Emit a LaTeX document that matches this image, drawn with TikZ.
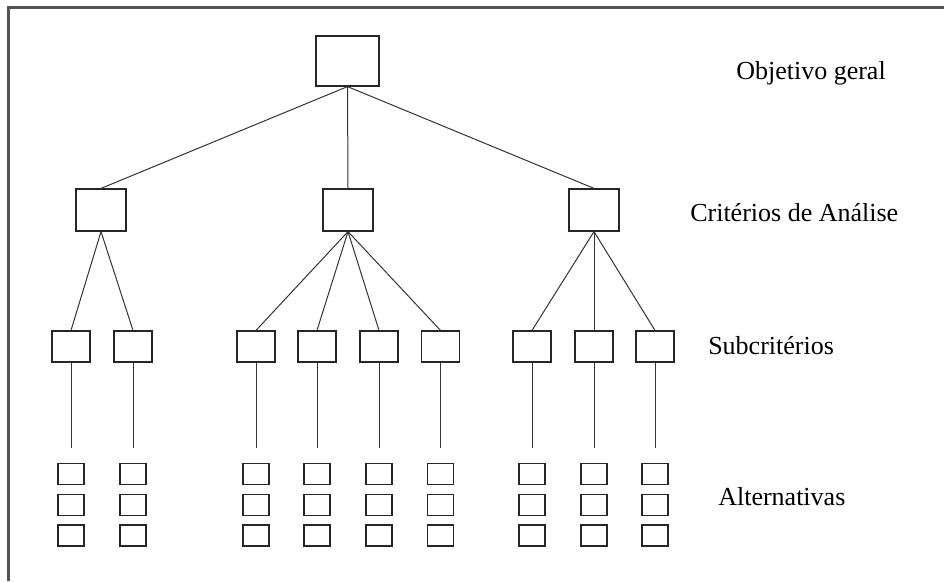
\documentclass[tikz,border=0pt]{standalone}
\usepackage{fontspec}
\setmainfont{Liberation Serif}
\begin{document}
\begin{tikzpicture}[x=0.75pt,y=-0.75pt,
  box/.style={draw=black!85,line width=0.9pt,inner sep=0pt,fill=white},
  topbox/.style={box,minimum width=47.25pt,minimum height=37.5pt},
  critbox/.style={box,minimum width=37.5pt,minimum height=31.5pt},
  subbox/.style={box,minimum width=28.5pt,minimum height=23.25pt},
  altbox/.style={box,minimum width=19.5pt,minimum height=15.75pt},
  link/.style={draw=black!80,line width=0.75pt},
  lvl/.style={anchor=west,font=\fontsize{19.5}{22}\selectfont,inner sep=0pt},
  frame/.style={draw=black!67,line width=1.6pt}]
\useasboundingbox (0,0) rectangle (944,581);
% frame (only top and left edges visible)
\coordinate (fa) at (8.5,581);
\coordinate (fb) at (8.5,7.5);
\coordinate (fc) at (944,7.5);
\draw[frame] (fa) -- (fb) -- (fc);
% top
\node[topbox] (top) at (347.5,61) {};
% criteria
\node[critbox] (c1) at (101,210) {};
\node[critbox] (c2) at (348,210) {};
\node[critbox] (c3) at (594,210) {};
\draw[link] (top.south) -- (c1.north);
\draw[link] (top.south) -- (c2.north);
\draw[link] (top.south) -- (c3.north);
% subcriteria
\foreach \i/\x/\p in {1/71/c1,2/133/c1,3/256/c2,4/317/c2,5/379/c2,6/440.5/c2,7/532/c3,8/594/c3,9/655/c3}{
  \node[subbox] (s\i) at (\x,346.5) {};
  \draw[link] (\p.south) -- (s\i.north);
  \coordinate (e\i) at (\x,448);
  \draw[link] (s\i.south) -- (e\i);
  \node[altbox] (a\i1) at (\x,474) {};
  \node[altbox] (a\i2) at (\x,505) {};
  \node[altbox] (a\i3) at (\x,535.5) {};
}
% labels
\node[lvl,anchor=center] (l1) at (811,73) {Objetivo geral};
\node[lvl] (l2) at (690,213) {Critérios de Análise};
\node[lvl] (l3) at (708,346) {Subcritérios};
\node[lvl] (l4) at (718,497) {Alternativas};
\end{tikzpicture}
\end{document}
